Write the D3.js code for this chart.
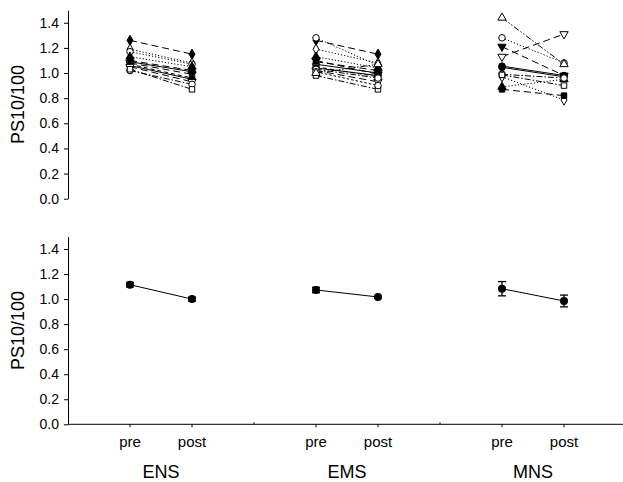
<!DOCTYPE html>
<html>
<head>
<meta charset="UTF-8">
<title>PS10/100 pre/post</title>
<script src="https://d3js.org/d3.v7.min.js"></script>
<style>
  body { margin: 0; background: #fff; }
  text { font-family: Arial, "Liberation Sans", sans-serif; fill: #000; }
</style>
</head>
<body>
<div id="chart"></div>
<script>
// ---- data ----
const groups = ["ENS", "EMS", "MNS"];
const phases = ["pre", "post"];
const yTicks = [0, 0.2, 0.4, 0.6, 0.8, 1.0, 1.2, 1.4];

// individual subjects (index = subject slot, null = no subject)
const ensPre  = [1.26, 1.19, 1.17, 1.13, 1.10, 1.09, 1.08, 1.07, 1.06, 1.05, 1.02, 1.03, null, null];
const ensPost = [1.15, 1.08, 1.07, 1.05, 1.02, 1.01, 0.99, 0.96, 0.95, 0.93, 0.91, 0.87, null, null];
const emsPre  = [1.26, 1.19, 1.28, 1.13, 1.09, 1.07, 1.10, 1.05, 1.04, 1.02, 1.03, 0.98, 1.01, 1.00];
const emsPost = [1.15, 1.08, 1.06, 1.04, 1.02, 1.00, 0.99, 0.97, 0.98, 0.93, 0.96, 0.87, 0.90, 1.07];
const mnsPre  = [null, 0.97, 1.28, 0.89, 0.87, 1.055, 1.21, null, 1.045, 1.13, 0.99, 0.985, null, 1.44];
const mnsPost = [null, 0.785, 1.08, 0.95, 0.82, 0.98, 0.98, null, 0.97, 1.31, 0.96, 0.90, null, 1.07];

// group means and standard errors
const meanPre  = [1.115, 1.073, 1.083];
const meanPost = [1.000, 1.017, 0.985];
const sePre    = [0.018, 0.022, 0.057];
const sePost   = [0.016, 0.008, 0.047];

// ---- styles per subject slot ----
const symTri = d3.symbolTriangle;
const triDown = { draw(ctx, size) { const h = Math.sqrt(size / (3 * Math.sqrt(3)));
  ctx.moveTo(0, 2 * h); ctx.lineTo(-Math.sqrt(3) * h, -h); ctx.lineTo(Math.sqrt(3) * h, -h); ctx.closePath(); } };
const dashes = {
  solid: null, longdash: "7,4", dot: "1.2,2", dashdot: "6,2,1.5,2",
  dash: "4,3", dashdotdot: "6,2,1.5,2,1.5,2", shortdash: "2.5,2"
};
const styles = [
  { sym: d3.symbolDiamond, fill: true,  dash: "longdash" },
  { sym: d3.symbolDiamond, fill: false, dash: "dot" },
  { sym: d3.symbolCircle,  fill: false, dash: "dot" },
  { sym: symTri,           fill: true,  dash: "dot" },
  { sym: d3.symbolSquare,  fill: true,  dash: "longdash" },
  { sym: d3.symbolCircle,  fill: true,  dash: "solid" },
  { sym: triDown,          fill: true,  dash: "longdash" },
  { sym: d3.symbolSquare,  fill: false, dash: "dash" },
  { sym: d3.symbolCircle,  fill: true,  dash: "solid" },
  { sym: triDown,          fill: false, dash: "longdash" },
  { sym: d3.symbolCircle,  fill: false, dash: "dashdot" },
  { sym: d3.symbolSquare,  fill: false, dash: "dashdot" },
  { sym: d3.symbolCircle,  fill: false, dash: "shortdash" },
  { sym: symTri,           fill: false, dash: "dashdotdot" }
];

const W = 623, H = 482;
const svg = d3.select("#chart").append("svg")
  .attr("width", W).attr("height", H);

const x = d3.scaleLinear().domain([0, 9]).range([68, 626]);
const xPos = (g, p) => x(1 + 3 * g + p);

const yTop = d3.scaleLinear().domain([0, 1.5]).range([198.7, 10.2]);
const yBot = d3.scaleLinear().domain([0, 1.5]).range([424.3, 236.5]);

function yAxis(y, title) {
  const g = svg.append("g").attr("transform", `translate(${x(0)},0)`)
    .call(d3.axisLeft(y).tickValues(yTicks).tickFormat(d3.format(".1f"))
      .tickSize(4).tickPadding(5).tickSizeOuter(0));
  g.select(".domain").attr("stroke-width", 1);
  g.selectAll(".tick text").style("font-size", "14px");
  svg.append("text")
    .attr("transform", `translate(18,${(y(0) + y(1.5)) / 2}) rotate(-90)`)
    .attr("text-anchor", "middle").attr("dominant-baseline", "central")
    .style("font-size", "18px").text(title);
}
yAxis(yTop, "PS10/100");
yAxis(yBot, "PS10/100");

// x axis of the lower panel
const xa = svg.append("g").attr("transform", `translate(0,${yBot(0)})`);
xa.append("line").attr("x1", x(0)).attr("x2", W).attr("stroke", "#000");
groups.forEach((name, g) => {
  phases.forEach((ph, p) => {
    xa.append("line").attr("x1", xPos(g, p)).attr("x2", xPos(g, p))
      .attr("y1", 0).attr("y2", 3).attr("stroke", "#000");
    xa.append("text").attr("x", xPos(g, p)).attr("y", 23)
      .attr("text-anchor", "middle").style("font-size", "15px").text(ph);
  });
  xa.append("text").attr("x", (xPos(g, 0) + xPos(g, 1)) / 2).attr("y", 54)
    .attr("text-anchor", "middle").style("font-size", "18px").text(name);
});
[3, 6].forEach(v => xa.append("line").attr("x1", x(v)).attr("x2", x(v))
  .attr("y1", 0).attr("y2", -2).attr("stroke", "#000"));

// ---- top panel: individual subjects ----
const subjPre = [ensPre, emsPre, mnsPre];
const subjPost = [ensPost, emsPost, mnsPost];
const topPanel = svg.append("g");
groups.forEach((name, g) => {
  const rows = subjPre[g].map((v, i) => ({ i, pre: v, post: subjPost[g][i] }))
    .filter(d => d.pre != null);
  topPanel.selectAll(null).data(rows).join("line")
    .attr("x1", xPos(g, 0)).attr("x2", xPos(g, 1))
    .attr("y1", d => yTop(d.pre)).attr("y2", d => yTop(d.post))
    .attr("stroke", "#000").attr("stroke-width", 1)
    .attr("stroke-dasharray", d => dashes[styles[d.i].dash]);
  rows.forEach(d => {
    phases.forEach((ph, p) => {
      const st = styles[d.i];
      topPanel.append("path")
        .attr("d", d3.symbol(st.sym, st.sym === d3.symbolCircle ? 34 : 30)())
        .attr("transform", `translate(${xPos(g, p)},${yTop(p ? d.post : d.pre)})`)
        .attr("fill", st.fill ? "#000" : "#fff")
        .attr("stroke", "#000").attr("stroke-width", 1);
    });
  });
});

// ---- bottom panel: means with SE ----
const botPanel = svg.append("g");
groups.forEach((name, g) => {
  const pts = [
    { p: 0, m: meanPre[g], se: sePre[g] },
    { p: 1, m: meanPost[g], se: sePost[g] }
  ];
  botPanel.append("line")
    .attr("x1", xPos(g, 0)).attr("x2", xPos(g, 1))
    .attr("y1", yBot(pts[0].m)).attr("y2", yBot(pts[1].m))
    .attr("stroke", "#000").attr("stroke-width", 1);
  pts.forEach(d => {
    const cx = xPos(g, d.p);
    botPanel.append("line").attr("x1", cx).attr("x2", cx)
      .attr("y1", yBot(d.m - d.se)).attr("y2", yBot(d.m + d.se))
      .attr("stroke", "#000").attr("stroke-width", 1.3);
    [d.m - d.se, d.m + d.se].forEach(v => botPanel.append("line")
      .attr("x1", cx - 4).attr("x2", cx + 4)
      .attr("y1", yBot(v)).attr("y2", yBot(v))
      .attr("stroke", "#000").attr("stroke-width", 1.3));
    botPanel.append("circle").attr("cx", cx).attr("cy", yBot(d.m))
      .attr("r", 4).attr("fill", "#000");
  });
});
</script>
</body>
</html>
